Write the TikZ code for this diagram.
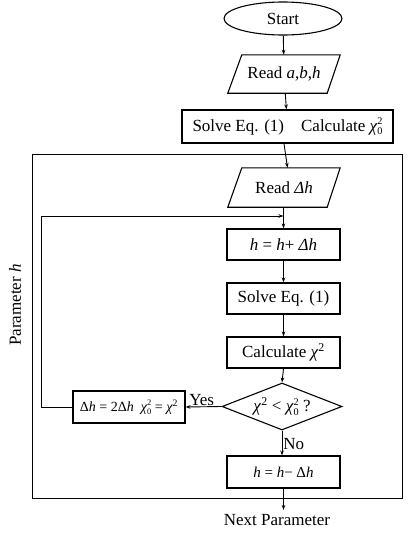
\documentclass[tikz,border=0pt]{standalone}
\usepackage{fontspec}
\setmainfont{Liberation Serif}
\usetikzlibrary{shapes.geometric,arrows.meta}
\newcommand{\chiz}{\textit{χ}\raisebox{-0.45ex}{\fontsize{0.6em}{0.62em}\selectfont\shortstack[l]{2\\0}}}
\newcommand{\chisq}{\textit{χ}\textsuperscript{2}}
\begin{document}
\begin{tikzpicture}[x=1pt,y=-1pt,
  font=\fontsize{17}{20}\selectfont,
  box/.style={draw,line width=1.1pt,rectangle,inner sep=0pt,minimum width=#1,minimum height=31},
  box/.default=113,
  paranode/.style={rectangle,inner sep=0pt,minimum width=112,minimum height=38},
  parashape/.style={draw,line width=1.1pt,line join=miter},
  arr/.style={line width=0.9pt,-{Stealth[length=5pt,width=3.5pt]}},
  ln/.style={line width=0.9pt},
  lbl/.style={inner sep=1pt}]
\useasboundingbox (0,0) rectangle (409,533);
% outer frame
\draw[line width=1pt] (32,154) rectangle (402,498);
\node[rotate=90] (param) at (15,305) {Parameter \textit{h}};
% nodes
\node[draw,line width=1.1pt,ellipse,inner sep=0pt,minimum width=118,minimum height=33] (start) at (283,18.5) {Start};
\node[paranode] (read1) at (284,74) {Read \textit{a},\textit{b},\textit{h}};
\draw[parashape] ([xshift=14]read1.north west) -- (read1.north east) -- ([xshift=-13]read1.south east) -- (read1.south west) -- cycle;
\node[box=211,minimum height=33] (solve0) at (287.5,126.5) {Solve Eq. (1)\quad Calculate \chiz};
\node[paranode,minimum height=39] (read2) at (284,187.5) {Read \textit{Δh}};
\draw[parashape] ([xshift=14]read2.north west) -- (read2.north east) -- ([xshift=-13]read2.south east) -- (read2.south west) -- cycle;
\coordinate (join) at (283.5,216);
\node[box] (inc) at (283.5,244.5) {\textit{h} = \textit{h}+ \textit{Δh}};
\node[box] (solve1) at (283.5,298.5) {Solve Eq. (1)};
\node[box] (calc) at (283.5,352.5) {Calculate \chisq};
\node[draw,line width=1.1pt,diamond,aspect=2.55,inner sep=0pt,minimum width=120,minimum height=47] (dec) at (282,406.5) {\chisq{} < \chiz{} ?};
\node[box=112,minimum height=32,font=\fontsize{14}{16}\selectfont] (dbox) at (129,407) {Δ\textit{h} = 2Δ\textit{h}\ \ \chiz{} = \chisq};
\node[box,minimum height=32,font=\fontsize{15}{17}\selectfont] (sub) at (283.5,472) {\textit{h} = \textit{h}− Δ\textit{h}};
\node[lbl] (next) at (277,520) {Next Parameter};
\coordinate (left) at (41,407);
\coordinate (lefttop) at (41,216);
\coordinate (nextin) at (283.5,510);
% connectors
\draw[arr] (start) -- (read1);
\draw[arr] (read1) -- (solve0);
\draw[arr] (solve0.south -| read2.north) -- (read2.north -| solve0.south);
\draw[ln] (read2.south -| join) -- (join);
\draw[arr] (join) -- (inc);
\draw[arr] (inc) -- (solve1);
\draw[arr] (solve1) -- (calc);
\draw[arr] (calc.south) -- (dec.north);
\draw[arr] (dec.west) -- node[lbl,above,pos=0.55] {Yes} (dbox.east);
\draw[ln] (dbox.west) -- (left) -- (lefttop);
\draw[arr] (lefttop) -- (join);
\draw[arr] (dec.south) -- node[lbl,right,pos=0.55] {No} (dec.south |- sub.north);
\draw[arr] (sub.south) -- (nextin);
\end{tikzpicture}
\end{document}
